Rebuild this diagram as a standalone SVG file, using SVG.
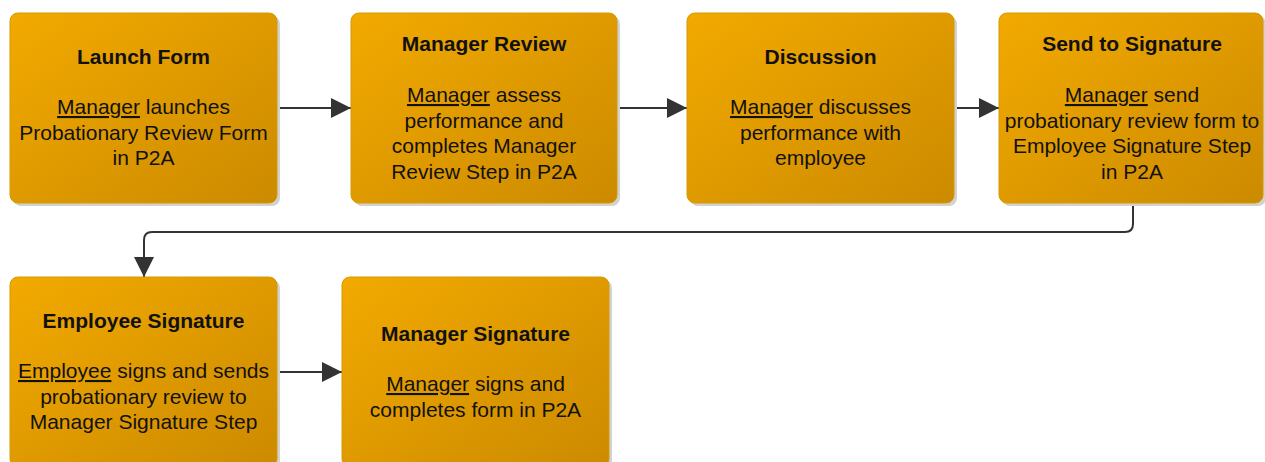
<svg xmlns="http://www.w3.org/2000/svg" width="1265" height="462" viewBox="0 0 1265 462">
<style>
.box{fill:url(#g);stroke:#D69A00;stroke-width:1}
.sh{fill:#d2d2d2}
.t{font-family:"Liberation Sans",Arial,sans-serif;font-size:21px;fill:#111;text-anchor:middle}
.b{font-weight:bold;font-size:21px}
.u{text-decoration:underline}
.c{fill:none;stroke:#333;stroke-width:2}
</style>
<defs>
<linearGradient id="g" x1="0" y1="0" x2="1" y2="1">
<stop offset="0" stop-color="#F2AA00"/>
<stop offset="1" stop-color="#CC8A00"/>
</linearGradient>
<marker id="a" viewBox="0 0 20 20" refX="20" refY="10" markerWidth="20" markerHeight="20" markerUnits="userSpaceOnUse" orient="auto">
<path d="M0,0 L20,10 L0,20 z" fill="#333"/>
</marker>
</defs>
<g id="connectors">
<path class="c" d="M277,108 H351" marker-end="url(#a)"/>
<path class="c" d="M617,108 H687" marker-end="url(#a)"/>
<path class="c" d="M954,108 H999" marker-end="url(#a)"/>
<path class="c" d="M1133,203 V224 Q1133,232 1125,232 H152 Q144,232 144,240 V277" marker-end="url(#a)"/>
<path class="c" d="M277,372 H342" marker-end="url(#a)"/>
</g>
<g id="n1">
<rect class="sh" x="13" y="16" width="267" height="190" rx="8"/>
<rect class="box" x="10" y="13" width="267" height="190" rx="8"/>
<text class="t b" x="143.5" y="64">Launch Form</text>
<text class="t" x="143.5" y="114"><tspan class="u">Manager</tspan> launches</text>
<text class="t" x="143.5" y="139.5">Probationary Review Form</text>
<text class="t" x="143.5" y="165">in P2A</text>
</g>
<g id="n2">
<rect class="sh" x="354" y="16" width="266" height="190" rx="8"/>
<rect class="box" x="351" y="13" width="266" height="190" rx="8"/>
<text class="t b" x="484" y="51">Manager Review</text>
<text class="t" x="484" y="102"><tspan class="u">Manager</tspan> assess</text>
<text class="t" x="484" y="127.5">performance and</text>
<text class="t" x="484" y="153">completes Manager</text>
<text class="t" x="484" y="178.5">Review Step in P2A</text>
</g>
<g id="n3">
<rect class="sh" x="690" y="16" width="267" height="190" rx="8"/>
<rect class="box" x="687" y="13" width="267" height="190" rx="8"/>
<text class="t b" x="820.5" y="64">Discussion</text>
<text class="t" x="820.5" y="114"><tspan class="u">Manager</tspan> discusses</text>
<text class="t" x="820.5" y="139.5">performance with</text>
<text class="t" x="820.5" y="165">employee</text>
</g>
<g id="n4">
<rect class="sh" x="1002" y="16" width="264" height="190" rx="8"/>
<rect class="box" x="999" y="13" width="264" height="190" rx="8"/>
<text class="t b" x="1132" y="51">Send to Signature</text>
<text class="t" x="1132" y="102"><tspan class="u">Manager</tspan> send</text>
<text class="t" x="1132" y="127.5">probationary review form to</text>
<text class="t" x="1132" y="153">Employee Signature Step</text>
<text class="t" x="1132" y="178.5">in P2A</text>
</g>
<g id="n5">
<rect class="sh" x="13" y="280" width="267" height="190" rx="8"/>
<rect class="box" x="10" y="277" width="267" height="190" rx="8"/>
<text class="t b" x="143.5" y="328">Employee Signature</text>
<text class="t" x="143.5" y="378"><tspan class="u">Employee</tspan> signs and sends</text>
<text class="t" x="143.5" y="403.5">probationary review to</text>
<text class="t" x="143.5" y="429">Manager Signature Step</text>
</g>
<g id="n6">
<rect class="sh" x="345" y="280" width="267" height="190" rx="8"/>
<rect class="box" x="342" y="277" width="267" height="190" rx="8"/>
<text class="t b" x="475.5" y="341">Manager Signature</text>
<text class="t" x="475.5" y="391"><tspan class="u">Manager</tspan> signs and</text>
<text class="t" x="475.5" y="416.5">completes form in P2A</text>
</g>
</svg>
